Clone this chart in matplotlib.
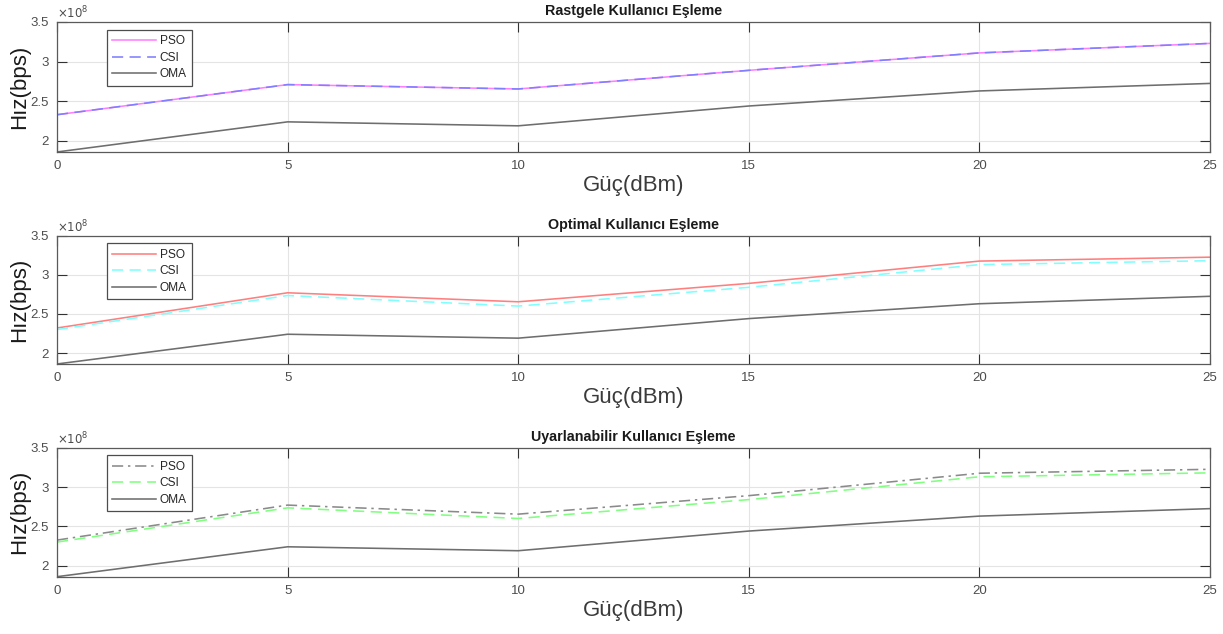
import numpy as np
import matplotlib
matplotlib.use("Agg")
import matplotlib.pyplot as plt
from matplotlib.ticker import FuncFormatter

# ---- Data (rates in bps) ----
power_dbm = [0, 5, 10, 15, 20, 25]

oma = [1.86e8, 2.24e8, 2.19e8, 2.44e8, 2.63e8, 2.725e8]

# Rastgele (random) pairing
pso_random = [2.33e8, 2.71e8, 2.655e8, 2.89e8, 3.11e8, 3.23e8]
csi_random = [2.33e8, 2.71e8, 2.655e8, 2.89e8, 3.11e8, 3.23e8]

# Optimal pairing
pso_optimal = [2.32e8, 2.77e8, 2.655e8, 2.89e8, 3.175e8, 3.225e8]
csi_optimal = [2.30e8, 2.735e8, 2.60e8, 2.84e8, 3.13e8, 3.18e8]

# Uyarlanabilir (adaptive) pairing
pso_adaptive = [2.325e8, 2.77e8, 2.655e8, 2.89e8, 3.175e8, 3.225e8]
csi_adaptive = [2.30e8, 2.735e8, 2.60e8, 2.84e8, 3.13e8, 3.18e8]

titles = ["Rastgele Kullanıcı Eşleme", "Optimal Kullanıcı Eşleme",
          "Uyarlanabilir Kullanıcı Eşleme"]
series_labels = ["PSO", "CSI", "OMA"]
x_ticks = [0, 5, 10, 15, 20, 25]
y_ticks = [2e8, 2.5e8, 3e8, 3.5e8]

# ---- Styles ----
TICK_GRAY = "#4d4d4d"
AX_GRAY = "#5a5a5a"
OMA_COLOR = "#6e6e6e"
LW = 1.15

panels = [
    (pso_random, csi_random,
     dict(color="#ff80ff", ls="-"), dict(color="#7f7fff", dashes=(7, 4))),
    (pso_optimal, csi_optimal,
     dict(color="#ff7f7f", ls="-"), dict(color="#7fffff", dashes=(7, 4))),
    (pso_adaptive, csi_adaptive,
     dict(color="#8a8a8a", dashes=(7, 3, 1.5, 3)), dict(color="#80ff80", dashes=(7, 4))),
]

plt.rcParams["font.family"] = ["Liberation Sans", "DejaVu Sans"]

fig = plt.figure(figsize=(12.23, 6.34), dpi=100)
fig.patch.set_facecolor("white")

# axes boxes [left, bottom, width, height] in figure fraction
boxes = [
    [0.0466, 0.7603, 0.9428, 0.2050],
    [0.0466, 0.4259, 0.9428, 0.2024],
    [0.0466, 0.0904, 0.9428, 0.2035],
]

for box, title, (pso, csi, pso_style, csi_style) in zip(boxes, titles, panels):
    ax = fig.add_axes(box)

    ax.plot(power_dbm, pso, lw=LW, label=series_labels[0], **pso_style)
    ax.plot(power_dbm, csi, lw=LW, label=series_labels[1], **csi_style)
    ax.plot(power_dbm, oma, lw=LW, color=OMA_COLOR, label=series_labels[2])

    ax.set_xlim(0, 25)
    ax.set_ylim(min(oma), 3.5e8)
    ax.set_xticks(x_ticks)
    ax.set_yticks(y_ticks)
    ax.yaxis.set_major_formatter(FuncFormatter(lambda v, p: f"{v / 1e8:g}"))

    ax.grid(True, color="#e4e4e4", lw=0.8)
    ax.set_axisbelow(True)
    ax.tick_params(direction="in", length=7, width=0.8, color="#333333",
                   labelcolor=TICK_GRAY, labelsize=9.5,
                   top=True, right=True, pad=6)
    for s in ax.spines.values():
        s.set_color(AX_GRAY)
        s.set_linewidth(0.9)

    ax.set_title(title, fontsize=10.3, fontweight="bold", color="#1a1a1a", pad=5)
    ax.set_xlabel("Güç(dBm)", fontsize=16, color="#3a3a3a", labelpad=2)
    ax.set_ylabel("Hız(bps)", fontsize=16, color="#1a1a1a", labelpad=0)
    ax.text(0.0, 1.005, r"$\times10^{8}$", transform=ax.transAxes,
            ha="left", va="bottom", fontsize=8.5, color=TICK_GRAY)

    leg = ax.legend(loc="upper left", bbox_to_anchor=(0.043, 0.94),
                    fontsize=8.6, handlelength=3.7, handletextpad=0.3,
                    borderpad=0.45, borderaxespad=0, labelspacing=0.38,
                    fancybox=False, framealpha=1, edgecolor="#4d4d4d")
    leg.get_frame().set_linewidth(0.9)
    for t in leg.get_texts():
        t.set_color("#262626")

fig.savefig("out.png", dpi=100, facecolor="white")
